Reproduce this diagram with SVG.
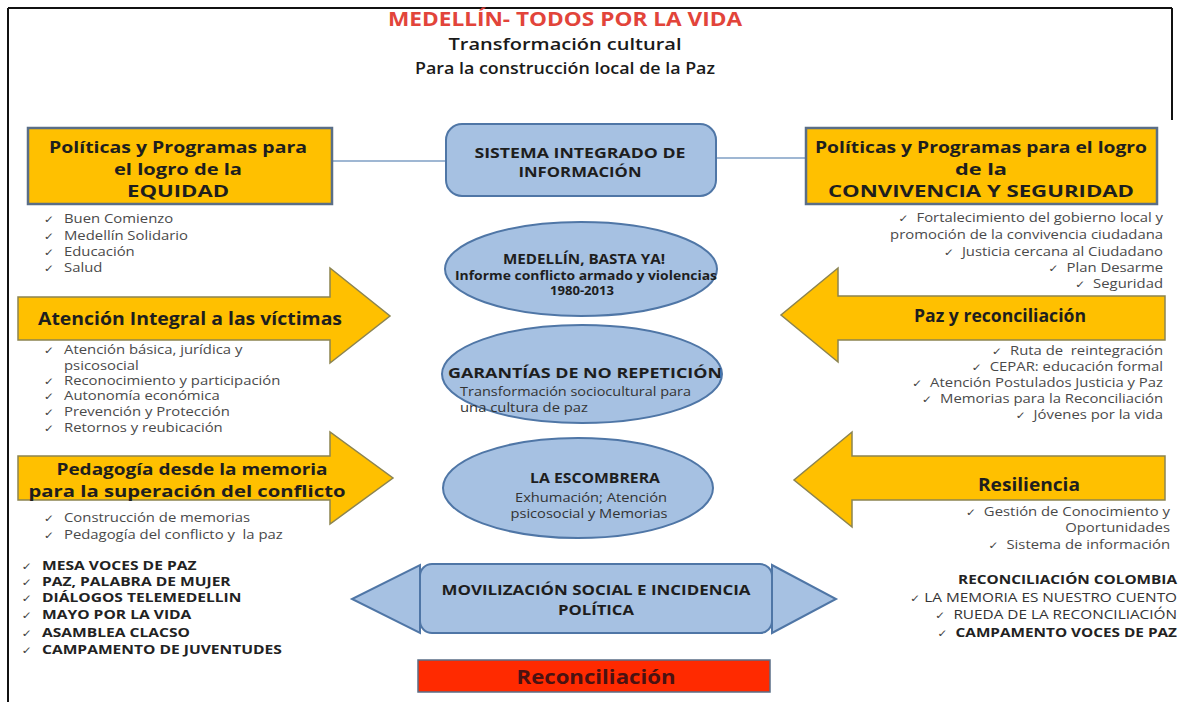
<svg xmlns="http://www.w3.org/2000/svg" width="1180" height="702" viewBox="0 0 1180 702">
<style>
text{font-family:"Open Sans","Liberation Sans",sans-serif;fill:#222}
.title{font-size:20px;font-weight:700;fill:#e2443a;text-anchor:middle}
.sub{font-size:17px;font-weight:600;text-anchor:middle;fill:#1a1a1a}
.ybox{fill:#ffc000;stroke:#5a6e86;stroke-width:2.5}
.yarr{fill:#ffc000;stroke:#8c8450;stroke-width:1.5}
.bshape{fill:#a6c1e2;stroke:#4f76a6;stroke-width:2}
.hd{font-size:16px;font-weight:700;text-anchor:middle;fill:#1e1e1e}
.h1{font-size:18px;font-weight:700;text-anchor:middle;fill:#1e1e1e}
.ct{font-size:14px;font-weight:700;text-anchor:middle;fill:#1e1e1e}
.cs{font-size:12.5px;fill:#333}
.li{font-size:12.5px;fill:#4a4a4a}
.lb{font-size:13px;font-weight:700;fill:#222}
.ck{font-family:"DejaVu Sans",sans-serif;font-size:10.5px;fill:#444}
.end{text-anchor:end}
.conn{stroke:#7f9fc4;stroke-width:1.5;fill:none}
</style>

<g id="frame" fill="none" stroke="#111" stroke-width="2">
<line x1="8" y1="8" x2="1172" y2="8"/>
<line x1="8" y1="8" x2="8" y2="702"/>
<line x1="1172" y1="8" x2="1172" y2="120"/>
</g>

<g id="title">
<text class="title" x="565" y="26" textLength="354" lengthAdjust="spacingAndGlyphs">MEDELLÍN- TODOS POR LA VIDA</text>
<text class="sub" x="565" y="50" textLength="233" lengthAdjust="spacingAndGlyphs">Transformación cultural</text>
<text class="sub" x="565" y="74" textLength="300" lengthAdjust="spacingAndGlyphs">Para la construcción local de la Paz</text>
</g>

<g id="connectors">
<line class="conn" x1="332" y1="161" x2="446" y2="161"/>
<line class="conn" x1="716" y1="158" x2="806" y2="158"/>
</g>

<g id="equidad">
<rect class="ybox" x="28" y="128" width="304" height="76"/>
<text class="hd" x="178" y="153" textLength="258" lengthAdjust="spacingAndGlyphs">Políticas y Programas para</text>
<text class="hd" x="178" y="175" textLength="128" lengthAdjust="spacingAndGlyphs">el logro de la</text>
<text class="hd" x="178" y="197" textLength="102" lengthAdjust="spacingAndGlyphs">EQUIDAD</text>
<g transform="translate(64 0) scale(1.19 1)">
<text class="ck" x="-17" y="223">✓</text><text class="li" x="0" y="223">Buen Comienzo</text>
<text class="ck" x="-17" y="240">✓</text><text class="li" x="0" y="240">Medellín Solidario</text>
<text class="ck" x="-17" y="256">✓</text><text class="li" x="0" y="256">Educación</text>
<text class="ck" x="-17" y="272">✓</text><text class="li" x="0" y="272">Salud</text>
</g>
</g>

<g id="sistema">
<rect class="bshape" x="446" y="124" width="270" height="72" rx="16"/>
<text class="ct" x="580" y="158" textLength="211" lengthAdjust="spacingAndGlyphs">SISTEMA INTEGRADO DE</text>
<text class="ct" x="580" y="177" textLength="123" lengthAdjust="spacingAndGlyphs">INFORMACIÓN</text>
</g>

<g id="convivencia">
<rect class="ybox" x="806" y="128" width="351" height="76"/>
<text class="hd" x="981" y="153" textLength="332" lengthAdjust="spacingAndGlyphs">Políticas y Programas para el logro</text>
<text class="hd" x="981" y="175" textLength="52" lengthAdjust="spacingAndGlyphs">de la</text>
<text class="hd" x="981" y="197" textLength="306" lengthAdjust="spacingAndGlyphs">CONVIVENCIA Y SEGURIDAD</text>
<g transform="translate(1163 0) scale(1.19 1)">
<text class="li end" x="0" y="222"><tspan class="ck">✓</tspan>&#160;&#160;Fortalecimiento del gobierno local y</text>
<text class="li end" x="0" y="239">promoción de la convivencia ciudadana</text>
<text class="li end" x="0" y="256"><tspan class="ck">✓</tspan>&#160;&#160;Justicia cercana al Ciudadano</text>
<text class="li end" x="0" y="272"><tspan class="ck">✓</tspan>&#160;&#160;Plan Desarme</text>
<text class="li end" x="0" y="288"><tspan class="ck">✓</tspan>&#160;&#160;Seguridad</text>
</g>
</g>

<g id="basta-ya">
<ellipse class="bshape" cx="581" cy="269" rx="136" ry="47"/>
<text class="ct" x="584" y="264" textLength="162" lengthAdjust="spacingAndGlyphs">MEDELLÍN, BASTA YA!</text>
<text class="ct" x="586" y="280" style="font-size:11.5px" textLength="262" lengthAdjust="spacingAndGlyphs">Informe conflicto armado y violencias</text>
<text class="ct" x="582" y="295" style="font-size:11.5px" textLength="64" lengthAdjust="spacingAndGlyphs">1980-2013</text>
</g>

<g id="victimas">
<polygon class="yarr" points="18,297 330,297 330,268 390,316 330,363 330,340 18,340"/>
<text class="h1" x="190" y="325" textLength="304" lengthAdjust="spacingAndGlyphs">Atención Integral a las víctimas</text>
<g transform="translate(64 0) scale(1.19 1)">
<text class="ck" x="-17" y="354">✓</text><text class="li" x="0" y="354">Atención básica, jurídica y</text>
<text class="li" x="0" y="370">psicosocial</text>
<text class="ck" x="-17" y="385">✓</text><text class="li" x="0" y="385">Reconocimiento y participación</text>
<text class="ck" x="-17" y="400">✓</text><text class="li" x="0" y="400">Autonomía económica</text>
<text class="ck" x="-17" y="416">✓</text><text class="li" x="0" y="416">Prevención y Protección</text>
<text class="ck" x="-17" y="432">✓</text><text class="li" x="0" y="432">Retornos y reubicación</text>
</g>
</g>

<g id="paz-reconciliacion">
<polygon class="yarr" points="1165,296 838,296 838,268 781,315 838,362 838,340 1165,340"/>
<text class="h1" x="1000" y="322" textLength="172" lengthAdjust="spacingAndGlyphs">Paz y reconciliación</text>
<g transform="translate(1163 0) scale(1.19 1)">
<text class="li end" x="0" y="355"><tspan class="ck">✓</tspan>&#160;&#160;Ruta de&#160;&#160;reintegración</text>
<text class="li end" x="0" y="371"><tspan class="ck">✓</tspan>&#160;&#160;CEPAR: educación formal</text>
<text class="li end" x="0" y="387"><tspan class="ck">✓</tspan>&#160;&#160;Atención Postulados Justicia y Paz</text>
<text class="li end" x="0" y="403"><tspan class="ck">✓</tspan>&#160;&#160;Memorias para la Reconciliación</text>
<text class="li end" x="0" y="419"><tspan class="ck">✓</tspan>&#160;&#160;Jóvenes por la vida</text>
</g>
</g>

<g id="garantias">
<ellipse class="bshape" cx="582" cy="374" rx="140" ry="49"/>
<text class="ct" x="585" y="378" textLength="274" lengthAdjust="spacingAndGlyphs">GARANTÍAS DE NO REPETICIÓN</text>
<text class="cs" x="460" y="396" textLength="231" lengthAdjust="spacingAndGlyphs">Transformación sociocultural para</text>
<text class="cs" x="460" y="412" textLength="128" lengthAdjust="spacingAndGlyphs">una cultura de paz</text>
</g>

<g id="pedagogia">
<polygon class="yarr" points="18,456 330,456 330,432 393,478 330,524 330,500 18,500"/>
<text class="hd" x="192" y="475" textLength="271" lengthAdjust="spacingAndGlyphs">Pedagogía desde la memoria</text>
<text class="hd" x="187" y="497" textLength="317" lengthAdjust="spacingAndGlyphs">para la superación del conflicto</text>
<g transform="translate(64 0) scale(1.19 1)">
<text class="ck" x="-17" y="522">✓</text><text class="li" x="0" y="522">Construcción de memorias</text>
<text class="ck" x="-17" y="539">✓</text><text class="li" x="0" y="539">Pedagogía del conflicto y&#160;&#160;la paz</text>
</g>
</g>

<g id="escombrera">
<ellipse class="bshape" cx="578" cy="488" rx="135" ry="50"/>
<text class="ct" x="595" y="483" textLength="130" lengthAdjust="spacingAndGlyphs">LA ESCOMBRERA</text>
<text class="cs" x="591" y="502" text-anchor="middle" textLength="152" lengthAdjust="spacingAndGlyphs">Exhumación; Atención</text>
<text class="cs" x="589" y="518" text-anchor="middle" textLength="157" lengthAdjust="spacingAndGlyphs">psicosocial y Memorias</text>
</g>

<g id="resiliencia">
<polygon class="yarr" points="1165,456 852,456 852,432 794,480 852,527 852,500 1165,500"/>
<text class="h1" x="1029" y="491" textLength="102" lengthAdjust="spacingAndGlyphs">Resiliencia</text>
<g transform="translate(1170 0) scale(1.19 1)">
<text class="li end" x="0" y="516"><tspan class="ck">✓</tspan>&#160;&#160;Gestión de Conocimiento y</text>
<text class="li end" x="0" y="532">Oportunidades</text>
<text class="li end" x="0" y="549"><tspan class="ck">✓</tspan>&#160;&#160;Sistema de información</text>
</g>
</g>

<g id="iniciativas-izq">
<g transform="translate(42 0) scale(1.2 1)">
<text class="ck" x="-17" y="570">✓</text><text class="lb" x="0" y="570">MESA VOCES DE PAZ</text>
<text class="ck" x="-17" y="586">✓</text><text class="lb" x="0" y="586">PAZ, PALABRA DE MUJER</text>
<text class="ck" x="-17" y="602">✓</text><text class="lb" x="0" y="602">DIÁLOGOS TELEMEDELLIN</text>
<text class="ck" x="-17" y="619">✓</text><text class="lb" x="0" y="619">MAYO POR LA VIDA</text>
<text class="ck" x="-17" y="637">✓</text><text class="lb" x="0" y="637">ASAMBLEA CLACSO</text>
<text class="ck" x="-17" y="654">✓</text><text class="lb" x="0" y="654">CAMPAMENTO DE JUVENTUDES</text>
</g>
</g>

<g id="movilizacion">
<polygon class="bshape" points="420,565 420,633 352,599"/>
<polygon class="bshape" points="772,565 772,633 836,599"/>
<rect class="bshape" x="420" y="564" width="352" height="69" rx="12"/>
<text class="ct" x="596" y="595" textLength="309" lengthAdjust="spacingAndGlyphs">MOVILIZACIÓN SOCIAL E INCIDENCIA</text>
<text class="ct" x="596" y="615" textLength="76" lengthAdjust="spacingAndGlyphs">POLÍTICA</text>
</g>

<g id="iniciativas-der">
<g transform="translate(1177 0) scale(1.18 1)">
<text class="lb end" x="0" y="584">RECONCILIACIÓN COLOMBIA</text>
<text class="li end" x="0" y="602" style="font-size:13px;fill:#333"><tspan class="ck">✓</tspan>&#160;LA MEMORIA ES NUESTRO CUENTO</text>
<text class="li end" x="0" y="619" style="font-size:13px;fill:#333"><tspan class="ck">✓</tspan>&#160;&#160;RUEDA DE LA RECONCILIACIÓN</text>
<text class="lb end" x="0" y="637"><tspan class="ck">✓</tspan>&#160;&#160;CAMPAMENTO VOCES DE PAZ</text>
</g>
</g>

<g id="reconciliacion">
<rect x="418" y="660" width="352" height="32" fill="#ff2a00" stroke="#5a6e86" stroke-width="1.5"/>
<text x="596" y="684" text-anchor="middle" style="font-size:19px;font-weight:700;fill:#4a1212" textLength="159" lengthAdjust="spacingAndGlyphs">Reconciliación</text>
</g>
</svg>
